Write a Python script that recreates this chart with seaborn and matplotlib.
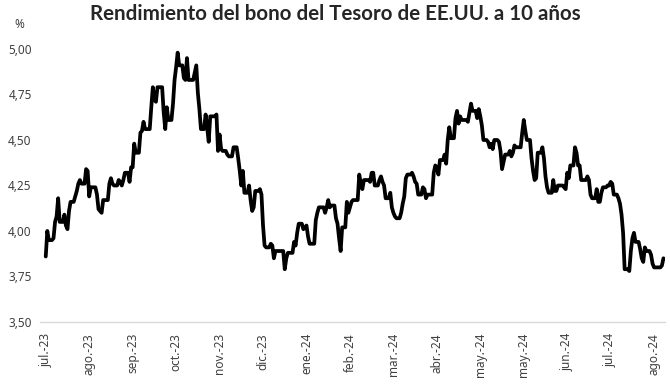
import numpy as np
import pandas as pd
import matplotlib
matplotlib.use("Agg")
import matplotlib.pyplot as plt
import seaborn as sns

# rendimiento diario (%), un valor por dia habil del mercado de bonos
jul_23 = [3.86, 4.00, 3.95, 3.96]
ago_23 = [4.05, 4.08, 4.18, 4.05, 4.09, 4.03, 4.01, 4.11, 4.16, 4.19, 4.22, 4.26,
          4.28, 4.26, 4.34, 4.33, 4.19, 4.24, 4.24, 4.20, 4.12, 4.11, 4.10]
sep_23 = [4.17, 4.26, 4.29, 4.26, 4.25, 4.28, 4.27, 4.25, 4.28, 4.32, 4.27, 4.35,
          4.35, 4.48, 4.43, 4.54, 4.55, 4.60, 4.56, 4.56]
oct_23 = [4.68, 4.79, 4.72, 4.71, 4.79, 4.65, 4.56, 4.68, 4.61, 4.70, 4.83, 4.90,
          4.98, 4.91, 4.84, 4.83, 4.95, 4.83, 4.83, 4.87, 4.91]
nov_23 = [4.76, 4.67, 4.56, 4.64, 4.57, 4.49, 4.63, 4.64, 4.44, 4.53, 4.45, 4.44,
          4.42, 4.41, 4.41, 4.46, 4.40, 4.33, 4.25, 4.33]
dic_23 = [4.21, 4.25, 4.17, 4.11, 4.13, 4.22, 4.23, 4.20, 4.03, 3.92, 3.91, 3.93,
          3.92, 3.85, 3.89, 3.89, 3.89, 3.79, 3.85, 3.88]
ene_24 = [3.94, 3.92, 3.99, 4.04, 4.01, 4.02, 4.03, 3.97, 3.93, 4.06, 4.10, 4.13,
          4.13, 4.10, 4.13, 4.17, 4.13, 4.14, 4.07, 4.04, 3.96]
feb_24 = [3.89, 4.02, 4.16, 4.10, 4.13, 4.16, 4.17, 4.17, 4.31, 4.26, 4.23, 4.28,
          4.27, 4.32, 4.32, 4.25, 4.28, 4.30, 4.27, 4.25]
mar_24 = [4.18, 4.21, 4.13, 4.10, 4.08, 4.07, 4.10, 4.15, 4.19, 4.29, 4.31, 4.32,
          4.30, 4.27, 4.26, 4.20, 4.24, 4.23, 4.18, 4.20]
abr_24 = [4.32, 4.36, 4.35, 4.31, 4.39, 4.42, 4.37, 4.50, 4.57, 4.51, 4.62, 4.66,
          4.59, 4.63, 4.61, 4.61, 4.60, 4.65, 4.70, 4.66, 4.62, 4.67]
may_24 = [4.63, 4.58, 4.50, 4.49, 4.46, 4.48, 4.45, 4.50, 4.49, 4.44, 4.34, 4.38,
          4.42, 4.44, 4.41, 4.43, 4.47, 4.46, 4.54, 4.61, 4.55, 4.50]
jun_24 = [4.40, 4.33, 4.28, 4.29, 4.43, 4.46, 4.40, 4.30, 4.24, 4.21, 4.28, 4.22,
          4.25, 4.25, 4.24, 4.23, 4.32, 4.29, 4.36]
jul_24 = [4.46, 4.43, 4.36, 4.28, 4.28, 4.30, 4.28, 4.20, 4.18, 4.23, 4.16, 4.16,
          4.21, 4.24, 4.25, 4.25, 4.27, 4.26, 4.20, 4.18, 4.15, 4.09]
ago_24 = [3.99, 3.79, 3.78, 3.89, 3.96, 3.99, 3.94, 3.90, 3.85, 3.83, 3.91, 3.89,
          3.87, 3.82, 3.80, 3.80, 3.80, 3.81, 3.85]

months = [("2023-07-26", "2023-07-31", jul_23), ("2023-08-01", "2023-08-31", ago_23),
          ("2023-09-01", "2023-09-30", sep_23), ("2023-10-01", "2023-10-31", oct_23),
          ("2023-11-01", "2023-11-30", nov_23), ("2023-12-01", "2023-12-31", dic_23),
          ("2024-01-01", "2024-01-31", ene_24), ("2024-02-01", "2024-02-29", feb_24),
          ("2024-03-01", "2024-03-31", mar_24), ("2024-04-01", "2024-04-30", abr_24),
          ("2024-05-01", "2024-05-31", may_24), ("2024-06-01", "2024-06-30", jun_24),
          ("2024-07-01", "2024-07-31", jul_24), ("2024-08-01", "2024-08-27", ago_24)]

holidays = ["2023-09-04", "2023-10-09", "2023-11-10", "2023-11-23", "2023-12-25",
            "2024-01-01", "2024-01-15", "2024-02-19", "2024-03-29", "2024-05-27",
            "2024-06-19", "2024-07-04"]

tick_labels = ["jul.-23", "ago.-23", "sep.-23", "oct.-23", "nov.-23", "dic.-23",
               "ene.-24", "feb.-24", "mar.-24", "abr.-24", "may.-24", "may.-24",
               "jun.-24", "jul.-24", "ago.-24"]

parts = []
for start, end, vals in months:
    d = pd.bdate_range(start, end, freq="C", holidays=holidays)
    assert len(d) == len(vals), (start, len(d), len(vals))
    parts.append(pd.Series(vals, index=d))
serie = pd.concat(parts).asfreq("D").ffill()
df = pd.DataFrame({"fecha": serie.index, "rend": serie.values})

sns.set_style("white")
plt.rcParams["font.family"] = ["Noto Sans", "DejaVu Sans"]

fig = plt.figure(figsize=(6.7, 3.88), dpi=100)
ax = fig.add_axes([40 / 670, 66 / 388, 625 / 670, 273 / 388])
sns.lineplot(data=df, x="fecha", y="rend", color="black", linewidth=2.7, ax=ax)

ax.set_ylim(3.5, 5.0)
yt = np.arange(3.5, 5.01, 0.25)
ax.set_yticks(yt)
ax.set_yticklabels([f"{v:.2f}".replace(".", ",") for v in yt], fontsize=8.5, color="#404040")

t0 = pd.Timestamp("2023-07-26")
ticks = pd.date_range(t0, periods=len(tick_labels), freq="28D")
ax.set_xticks(ticks)
ax.set_xticklabels(tick_labels, rotation=90, fontsize=8.5, color="#404040")
ax.set_xlim(t0 - pd.Timedelta(days=3.7), serie.index[-1] + pd.Timedelta(days=1))

ax.tick_params(axis="both", length=0)
ax.tick_params(axis="x", pad=8)
ax.tick_params(axis="y", pad=6)
for s in ["top", "right", "left"]:
    ax.spines[s].set_visible(False)
ax.spines["bottom"].set_color("#d9d9d9")
ax.spines["bottom"].set_linewidth(1)
ax.set_xlabel("")
ax.set_ylabel("")

fig.text(0.5, 1 - 14 / 388, "Rendimiento del bono del Tesoro de EE.UU. a 10 años",
         ha="center", va="center", fontsize=14.8, fontweight="bold",
         family=["Lato", "DejaVu Sans"])
fig.text(19 / 670, 1 - 24 / 388, "%", ha="center", va="center", fontsize=8.5, color="#404040")

fig.savefig("out.png", dpi=100)
